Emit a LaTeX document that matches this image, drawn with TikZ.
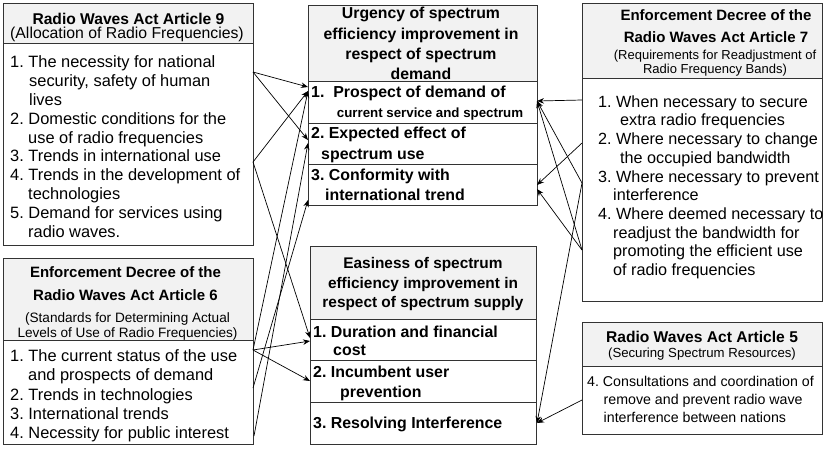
\documentclass[tikz,border=0pt]{standalone}
\usepackage{fontspec}
\setmainfont{Liberation Sans}
\frenchspacing
\usetikzlibrary{arrows.meta}
\definecolor{hdr}{HTML}{F2F2F2}
\tikzset{
  boxline/.style={draw=black!80, line width=1pt},
  hdrfill/.style={fill=hdr},
  body/.style={inner sep=0pt, anchor=base west, align=left, font=\fontsize{16.4}{18.9}\selectfont},
  hdrbold/.style={inner sep=0pt, anchor=base, align=center, font=\bfseries\fontsize{15.6}{20}\selectfont},
  hdrsub/.style={inner sep=0pt, anchor=base, align=center, font=\fontsize{13.4}{15}\selectfont},
  rowtext/.style={inner sep=0pt, anchor=base west, align=left, font=\bfseries\fontsize{15.9}{20.5}\selectfont},
  conn/.style={draw=black, line width=0.7pt, -{Stealth[length=7pt,width=5.5pt]}},
}
\begin{document}
\begin{tikzpicture}[x=1pt,y=-1pt]
\useasboundingbox (0,0) rectangle (827,448);
% ---------- left top box: Article 9
\fill[hdrfill] (3,3) rectangle (253,43);
\draw[boxline] (3,3) rectangle (253,245);
\draw[boxline] (3,43) -- (253,43);
\node[hdrbold] (l1h) at (128.5,24.5) {Radio Waves Act Article 9};
\node[hdrsub, font=\fontsize{15.8}{16}\selectfont] (l1s) at (127,38.8) {(Allocation of Radio Frequencies)};
\node[body] (l1b) at (10,237.5) {1. The necessity for national\\
\hspace*{19pt}security, safety of human\\
\hspace*{19pt}lives\\
2. Domestic conditions for the\\
\hspace*{18pt}use of radio frequencies\\
3. Trends in international use\\
4. Trends in the development of\\
\hspace*{18pt}technologies\\
5. Demand for services using\\
\hspace*{18pt}radio waves.};
% ---------- left bottom box: Article 6
\fill[hdrfill] (3,258) rectangle (253,340);
\draw[boxline] (3,258) rectangle (253,444);
\draw[boxline] (3,340) -- (253,340);
\node[hdrbold, font=\bfseries\fontsize{15}{23.3}\selectfont] (l2h) at (125.5,300.3) {Enforcement Decree of the\\Radio Waves Act Article 6};
\node[hdrsub, font=\fontsize{13.6}{15}\selectfont] (l2s) at (127.5,337.5) {(Standards for Determining Actual\\Levels of Use of Radio Frequencies)};
\node[body, font=\fontsize{16.4}{19.25}\selectfont] (l2b) at (10,438.5) {1. The current status of the use\\
\hspace*{18pt}and prospects of demand\\
2. Trends in technologies\\
3. International trends\\
4. Necessity for public interest};
% ---------- center top box
\fill[hdrfill] (308,5) rectangle (537,81);
\draw[boxline] (308,5) rectangle (537,205);
\draw[boxline] (308,81) -- (537,81);
\draw[boxline] (308,123) -- (537,123);
\draw[boxline] (308,164) -- (537,164);
\node[hdrbold, font=\bfseries\fontsize{15.8}{20.2}\selectfont] (c1h) at (421,79.5) {Urgency of spectrum\\efficiency improvement in\\respect of spectrum\\demand};
\node[rowtext] (c1r1) at (311,97) {1.\ \ Prospect of demand of};
\node[rowtext, font=\bfseries\fontsize{13.3}{14}\selectfont] (c1r1x) at (336.7,117.5) {current service and spectrum};
\node[rowtext, font=\bfseries\fontsize{15.9}{21}\selectfont] (c1r2) at (311,159.5) {2. Expected effect of\\\hspace*{10pt}spectrum use};
\node[rowtext, font=\bfseries\fontsize{15.9}{20}\selectfont] (c1r3) at (311,200.5) {3. Conformity with\\\hspace*{14pt}international trend};
% ---------- center bottom box
\fill[hdrfill] (310,246) rectangle (536,319);
\draw[boxline] (310,246) rectangle (536,444);
\draw[boxline] (310,319) -- (536,319);
\draw[boxline] (310,360) -- (536,360);
\draw[boxline] (310,402) -- (536,402);
\node[hdrbold, font=\bfseries\fontsize{15.4}{19.5}\selectfont] (c2h) at (423,307.5) {Easiness of spectrum\\efficiency improvement in\\respect of spectrum supply};
\node[rowtext, font=\bfseries\fontsize{15.9}{18.5}\selectfont] (c2r1) at (313,355.5) {1. Duration and financial\\\hspace*{20pt}cost};
\node[rowtext, font=\bfseries\fontsize{15.9}{20}\selectfont] (c2r2) at (313,397) {2. Incumbent user\\\hspace*{27pt}prevention};
\node[rowtext] (c2r3) at (313,428.8) {3. Resolving Interference};
% ---------- right top box: Article 7
\fill[hdrfill] (582,3) rectangle (822,78);
\draw[boxline] (582,3) rectangle (822,301);
\draw[boxline] (582,78) -- (822,78);
\node[hdrbold, font=\bfseries\fontsize{15}{21.5}\selectfont] (r1h) at (716,42) {Enforcement Decree of the\\Radio Waves Act Article 7};
\node[hdrsub, font=\fontsize{13}{13.5}\selectfont] (r1s) at (715,73) {(Requirements for Readjustment of\\Radio Frequency Bands)};
\node[body, font=\fontsize{16.2}{18.7}\selectfont] (r1b) at (598,275.5) {1. When necessary to secure\\
\hspace*{22pt}extra radio frequencies\\
2. Where necessary to change\\
\hspace*{22pt}the occupied bandwidth\\
3. Where necessary to prevent\\
\hspace*{15pt}interference\\
4. Where deemed necessary to\\
\hspace*{15pt}readjust the bandwidth for\\
\hspace*{15pt}promoting the efficient use\\
\hspace*{15pt}of radio frequencies};
% ---------- right bottom box: Article 5
\fill[hdrfill] (582,322) rectangle (822,366);
\draw[boxline] (582,322) rectangle (822,434);
\draw[boxline] (582,366) -- (822,366);
\node[hdrbold] (r2h) at (702,342) {Radio Waves Act Article 5};
\node[hdrsub, font=\fontsize{13.2}{15}\selectfont] (r2s) at (702,357.5) {(Securing Spectrum Resources)};
\node[body, font=\fontsize{14.2}{18}\selectfont] (r2b) at (587,422.5) {4. Consultations and coordination of\\
\hspace*{16.5pt}remove and prevent radio wave\\
\hspace*{16.5pt}interference between nations};
% ---------- connector end points
\coordinate (s9a) at (253,72);
\coordinate (s9b) at (253,162);
\coordinate (s6a) at (253,350);
\coordinate (s6b) at (253,388);
\coordinate (s6c) at (254,436);
\coordinate (t1a) at (308,87);
\coordinate (t1b) at (308,91);
\coordinate (t2a) at (308,140);
\coordinate (t2b) at (308,143);
\coordinate (t3) at (308,200);
\coordinate (u1a) at (310,338);
\coordinate (u1b) at (310,341);
\coordinate (u2) at (310,381);
\coordinate (s7a) at (582,100);
\coordinate (s7b) at (582,143);
\coordinate (s7c) at (582,183);
\coordinate (s7d) at (582,250);
\coordinate (s5) at (582,400);
\coordinate (v1) at (537,101);
\coordinate (v3a) at (537,185);
\coordinate (v3b) at (537,189);
\coordinate (w3) at (537,423);
% ---------- connectors, left
\draw[conn] (s9a) -- (t1a);
\draw[conn] (s9a) -- (t2a);
\draw[conn] (s9b) -- (t1b);
\draw[conn] (s9b) -- (u1a);
\draw[conn] (s6a) -- (u1b);
\draw[conn] (s6a) -- (u2);
\draw[conn] (s6a) -- (t1b);
\draw[conn] (s6b) -- (t3);
\draw[conn] (s6c) -- (t2b);
% ---------- connectors, right
\draw[conn] (s7a) -- (v1);
\draw[conn] (s7b) -- (v3a);
\draw[conn] (s7c) -- (v1);
\draw[conn] (s7c) -- (w3);
\draw[conn] (s7d) -- (v1);
\draw[conn] (s7d) -- (v3b);
\draw[conn] (s5) -- (w3);
\end{tikzpicture}
\end{document}
